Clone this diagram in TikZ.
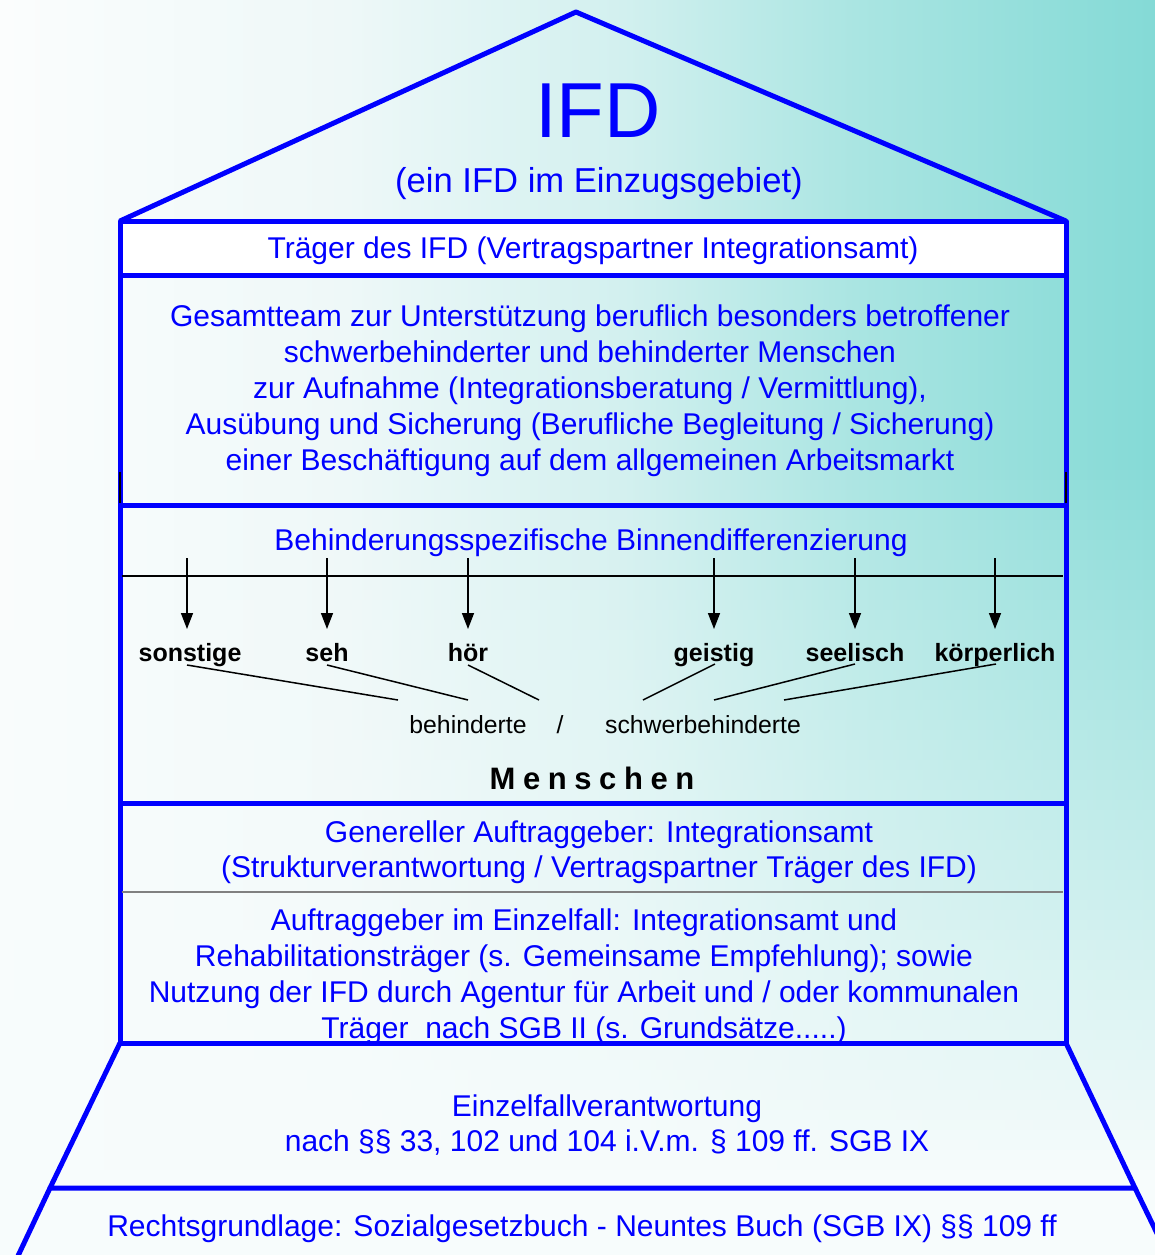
\documentclass[tikz,border=0pt]{standalone}
\usepackage{fontspec}
\setmainfont{Liberation Sans}
\usetikzlibrary{arrows.meta}
\definecolor{ifdblue}{RGB}{0,0,255}
\definecolor{bgA}{RGB}{251,253,253}
\definecolor{bgB}{RGB}{238,248,248}
\definecolor{bgC}{RGB}{210,240,239}
\definecolor{bgE}{RGB}{170,229,226}
\definecolor{bgD}{RGB}{132,218,214}
\definecolor{bgBot}{RGB}{247,252,252}
\pgfdeclarehorizontalshading{bgh}{100bp}{color(0bp)=(bgA); color(25bp)=(bgA); color(40bp)=(bgB); color(52bp)=(bgC); color(62bp)=(bgE); color(75bp)=(bgD); color(100bp)=(bgD)}
\begin{document}
\begin{tikzpicture}[x=0.5pt,y=-0.5pt,
  blueline/.style={draw=ifdblue, line width=2.5pt, line join=round},
  btext/.style={text=ifdblue, font=\fontsize{15}{18}\selectfont, align=center, inner sep=0pt},
  lab/.style={font=\bfseries\fontsize{12.5}{15}\selectfont, inner sep=0pt, anchor=base},
  smalltext/.style={font=\fontsize{12.4}{15}\selectfont, inner sep=0pt},
  thinl/.style={draw=black, line width=0.75pt},
  arr/.style={thinl, -{Triangle[length=8pt,width=6pt]}},
  grayl/.style={draw=gray, line width=0.75pt}]
\useasboundingbox (0,0) rectangle (1155,1255);
% background
\begin{scope}
\clip (0,0) rectangle (1155,1255);
\shade[shading=bgh] (0,0) rectangle (1155,1255);
\foreach \k in {0,...,72}{
  \pgfmathsetmacro{\op}{min(1,\k/72)}
  \fill[bgBot, fill opacity=\op] (0,{450+\k*10}) rectangle (1155,{460+\k*10});
}
\fill[bgBot] (0,1180) rectangle (1155,1255);
\end{scope}
% white band
\fill[white] (120,221) rectangle (1066,275);

% coordinates of the frame
\coordinate (apex) at (576,12);
\coordinate (rl) at (120,221);
\coordinate (rr) at (1066,221);
\coordinate (bl) at (120,1043);
\coordinate (br) at (1066,1043);
\coordinate (tl) at (50,1188);
\coordinate (tr) at (1135,1188);

% texts
\node[text=ifdblue, font=\fontsize{39}{44}\selectfont, inner sep=0pt] (ifd) at (598,111) {IFD};
\node[btext, font=\fontsize{17.3}{20}\selectfont] (sub) at (599,184) {(ein IFD im Einzugsgebiet)};
\node[btext] (traeger) at (593,251) {Träger des IFD (Vertragspartner Integrationsamt)};
\node[btext] (gesamt) at (590,391) {Gesamtteam zur Unterstützung beruflich besonders betroffener\\
schwerbehinderter und behinderter Menschen\\
zur Aufnahme (Integrationsberatung / Vermittlung),\\
Ausübung und Sicherung (Berufliche Begleitung / Sicherung)\\
einer Beschäftigung auf dem allgemeinen Arbeitsmarkt};
\node[btext] (binnen) at (591,543) {Behinderungsspezifische Binnendifferenzierung};
\node[btext, font=\fontsize{15}{17.5}\selectfont] (generell) at (599,852) {Genereller Auftraggeber: Integrationsamt\\
(Strukturverantwortung / Vertragspartner Träger des IFD)};
\node[btext] (einzel) at (584,977) {Auftraggeber im Einzelfall: Integrationsamt und\\
Rehabilitationsträger (s. Gemeinsame Empfehlung); sowie\\
Nutzung der IFD durch Agentur für Arbeit und / oder kommunalen\\
Träger\ \ nach SGB II (s. Grundsätze.....)};
\node[btext, font=\fontsize{15}{17.5}\selectfont] (verantw) at (607,1125) {Einzelfallverantwortung\\
nach §§ 33, 102 und 104 i.V.m. § 109 ff. SGB IX};
\node[btext] (recht) at (582,1229) {Rechtsgrundlage: Sozialgesetzbuch - Neuntes Buch (SGB IX) §§ 109 ff};

% labels
\node[lab] (sonst) at (190,661) {sonstige};
\node[lab] (seh) at (327,661) {seh};
\node[lab] (hoer) at (468,661) {hör};
\node[lab] (geist) at (714,661) {geistig};
\node[lab] (seel) at (855,661) {seelisch};
\node[lab] (koerp) at (995,661) {körperlich};
\node[smalltext] (beh) at (468,725) {behinderte};
\node[smalltext] (slash) at (560,725) {/};
\node[smalltext] (schwer) at (703,725) {schwerbehinderte};
\node[font=\bfseries\fontsize{15.5}{18}\selectfont, inner sep=0pt] (menschen) at (592,778)
  {M\kern3.8pt e\kern3.8pt n\kern3.8pt s\kern3.8pt c\kern3.8pt h\kern3.8pt e\kern3.8pt n};

% frame
\draw[blueline] (rl) -- (apex) -- (rr);
\draw[blueline] (rl) -- (rr) -- (br) -- (bl) -- cycle;
\draw[blueline] (120,275) -- (1066,275);
\draw[blueline] (120,505) -- (1066,505);
\draw[blueline] (120,803) -- (1066,803);
\draw[grayl] (122,892) -- (1063,892);
\begin{scope}
\clip (0,0) rectangle (1155,1255);
\draw[blueline] (bl) -- (tl) -- (tr) -- (br);
\draw[blueline] (tl) -- (17,1258);
\draw[blueline] (tr) -- (1169,1258);
\end{scope}
\draw[thinl] (120,472) -- (120,503);
\draw[thinl] (1066,472) -- (1066,503);

% differentiation line and arrows
\draw[thinl] (122,576) -- (1063,576);
\foreach \x/\n in {187/a,327/b,468/c,714/d,855/e,995/f}{
  \coordinate (\n s) at (\x,558);
  \coordinate (\n e) at (\x,629);
  \draw[arr] (\n s) -- (\n e);
}
% connectors to behinderte / schwerbehinderte
\coordinate (c1a) at (187,665); \coordinate (c1b) at (398,700);
\coordinate (c2a) at (327,665); \coordinate (c2b) at (468,700);
\coordinate (c3a) at (468,665); \coordinate (c3b) at (539,700);
\coordinate (c4a) at (715,664); \coordinate (c4b) at (643,700);
\coordinate (c5a) at (855,664); \coordinate (c5b) at (714,700);
\coordinate (c6a) at (996,664); \coordinate (c6b) at (784,700);
\foreach \i in {1,...,6}{\draw[thinl] (c\i a) -- (c\i b);}
\end{tikzpicture}
\end{document}
